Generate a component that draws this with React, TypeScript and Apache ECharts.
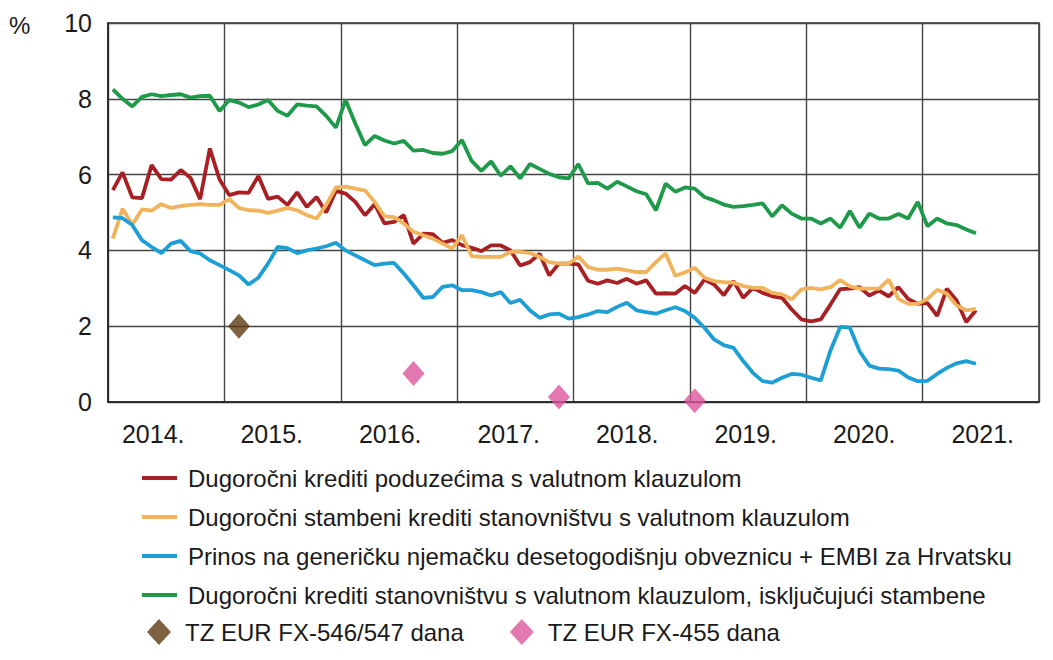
import React, { useEffect, useRef } from "react";
import * as echarts from "echarts";

// Year categories (labels centred in each year; split lines at year boundaries)
const yearLabels = ["2014.", "2015.", "2016.", "2017.", "2018.", "2019.", "2020.", "2021."];
const monthsPerYear = 12;

// Monthly values, January 2014 – June 2021 (%)
const corporate = [
  5.59, 6.06, 5.4, 5.38, 6.25, 5.88, 5.87, 6.12, 5.92, 5.35, 6.69, 5.87,
  5.46, 5.53, 5.52, 5.96, 5.36, 5.42, 5.2, 5.53, 5.15, 5.41, 5.0, 5.57,
  5.5, 5.28, 4.93, 5.22, 4.71, 4.75, 4.93, 4.18, 4.44, 4.43, 4.2, 4.27,
  4.14, 4.07, 3.98, 4.13, 4.13, 4.0, 3.6, 3.69, 3.91, 3.34, 3.65, 3.65,
  3.63, 3.2, 3.12, 3.21, 3.14, 3.25, 3.12, 3.21, 2.86, 2.87, 2.86, 3.06,
  2.88, 3.23, 3.1, 2.82, 3.19, 2.75, 3.01, 2.88, 2.79, 2.75, 2.44, 2.18,
  2.13, 2.18, 2.57, 2.98, 2.99, 3.03, 2.81, 2.94, 2.79, 3.03, 2.72, 2.59,
  2.61, 2.27, 2.99, 2.68, 2.11, 2.42,
];
const housing = [
  4.31, 5.1, 4.68, 5.08, 5.05, 5.22, 5.12, 5.17, 5.2, 5.22, 5.2, 5.2,
  5.35, 5.12, 5.06, 5.05, 4.99, 5.05, 5.12, 5.06, 4.93, 4.84, 5.2, 5.66,
  5.68, 5.63, 5.58, 5.28, 4.9, 4.88, 4.71, 4.49, 4.4, 4.31, 4.18, 4.05,
  4.4, 3.85, 3.83, 3.83, 3.83, 3.96, 3.96, 3.93, 3.83, 3.69, 3.65, 3.65,
  3.84, 3.56, 3.49, 3.49, 3.52, 3.47, 3.43, 3.43, 3.69, 3.92, 3.33, 3.42,
  3.54, 3.28, 3.19, 3.16, 3.15, 3.06, 3.01, 3.01, 2.88, 2.84, 2.71, 2.97,
  3.01, 2.97, 3.03, 3.22, 3.05, 2.99, 2.99, 2.99, 3.23, 2.72, 2.59, 2.59,
  2.72, 2.96, 2.86, 2.55, 2.42, 2.46,
];
const benchmark = [
  4.87, 4.85, 4.67, 4.27, 4.09, 3.93, 4.18, 4.25, 3.98, 3.92, 3.74, 3.61,
  3.48, 3.34, 3.1, 3.28, 3.65, 4.09, 4.06, 3.93, 4.0, 4.05, 4.11, 4.2,
  4.0, 3.87, 3.74, 3.61, 3.65, 3.67, 3.39, 3.08, 2.75, 2.77, 3.04, 3.08,
  2.95, 2.95, 2.9, 2.81, 2.9, 2.61, 2.7, 2.42, 2.22, 2.31, 2.33, 2.2,
  2.24, 2.31, 2.4, 2.37, 2.51, 2.62, 2.42, 2.37, 2.33, 2.42, 2.5, 2.4,
  2.22, 1.96, 1.65, 1.5, 1.43, 1.08, 0.77, 0.55, 0.51, 0.64, 0.74, 0.72,
  0.64, 0.57, 1.36, 1.98, 1.96, 1.34, 0.96, 0.88, 0.87, 0.83, 0.65, 0.55,
  0.56, 0.74, 0.9, 1.02, 1.08, 1.01,
];
const consumer = [
  8.25, 8.0, 7.8, 8.05, 8.12, 8.07, 8.1, 8.12, 8.03, 8.07, 8.08, 7.68,
  7.97, 7.9, 7.78, 7.85, 7.97, 7.68, 7.55, 7.85, 7.82, 7.8, 7.55, 7.24,
  7.97, 7.35, 6.78, 7.02, 6.9, 6.82, 6.89, 6.63, 6.65, 6.57, 6.55, 6.62,
  6.91, 6.36, 6.1, 6.35, 5.97, 6.22, 5.9, 6.28, 6.15, 6.02, 5.93, 5.9,
  6.28, 5.77, 5.78, 5.63, 5.81, 5.69, 5.56, 5.48, 5.06, 5.76, 5.55, 5.66,
  5.63, 5.41, 5.32, 5.21, 5.15, 5.17, 5.2, 5.24, 4.9, 5.19, 4.97, 4.84,
  4.84, 4.71, 4.84, 4.6, 5.04, 4.6, 4.97, 4.84, 4.84, 4.96, 4.84, 5.28,
  4.64, 4.84, 4.71, 4.67, 4.55, 4.45,
];
// Treasury bill issues: month index from January 2014, yield (%)
const fx546Months = [13];
const fx546Values = [2.0];
const fx455Months = [31, 46, 60];
const fx455Values = [0.75, 0.13, 0.03];

const names = {
  corporate: "Dugoročni krediti poduzećima s valutnom klauzulom",
  housing: "Dugoročni stambeni krediti stanovništvu s valutnom klauzulom",
  benchmark: "Prinos na generičku njemačku desetogodišnju obveznicu + EMBI za Hrvatsku",
  consumer: "Dugoročni krediti stanovništvu s valutnom klauzulom, isključujući stambene",
  fx546: "TZ EUR FX-546/547 dana",
  fx455: "TZ EUR FX-455 dana",
};

const FONT = "'Liberation Sans', Arial, sans-serif";
const TEXT = "#1a1a1a";

const toMonthly = (vals: number[]) => vals.map((v, i) => [i + 0.5, v]);
const toPoints = (months: number[], vals: number[]) => months.map((m, i) => [m + 0.5, vals[i]]);

export default function App() {
  const ref = useRef<HTMLDivElement>(null);
  useEffect(() => {
    if (!ref.current) return;
    const chart = echarts.init(ref.current, undefined, { renderer: "svg" });
    const lineSeries = (name: string, data: number[], color: string, z: number) => ({
      name,
      type: "line",
      xAxisIndex: 1,
      data: toMonthly(data),
      showSymbol: false,
      color,
      lineStyle: { color, width: 3.8 },
      itemStyle: { color },
      z,
    });
    const legendText = (pad: number) => ({
      fontSize: 24,
      lineHeight: 26,
      color: TEXT,
      fontFamily: FONT,
      padding: [0, 0, 0, pad],
    });
    chart.setOption({
      animation: false,
      grid: [
        { left: 108, right: 14, top: 23, bottom: 258, show: true, borderColor: "#333", borderWidth: 1.5 },
        { left: 94, right: 11, top: 23, bottom: 258, show: false },
      ],
      xAxis: [
        {
          type: "category",
          gridIndex: 0,
          data: yearLabels,
          boundaryGap: true,
          axisLine: { show: true, lineStyle: { color: "#222", width: 1.5 } },
          axisTick: { show: false },
          axisLabel: { show: false },
          splitLine: { show: true, interval: 0, lineStyle: { color: "#444", width: 1.4 } },
        },
        { type: "value", gridIndex: 0, min: 0, max: yearLabels.length * monthsPerYear, show: false },
        {
          type: "category",
          gridIndex: 1,
          data: yearLabels,
          boundaryGap: true,
          axisLine: { show: false },
          axisTick: { show: false },
          splitLine: { show: false },
          axisLabel: { fontSize: 25, color: TEXT, margin: 19, fontFamily: FONT },
        },
      ],
      yAxis: [
        {
          type: "value",
          gridIndex: 0,
          min: 0,
          max: 10,
          interval: 2,
          axisLine: { show: true, lineStyle: { color: "#222", width: 1.5 } },
          axisTick: { show: false },
          axisLabel: { fontSize: 25, color: TEXT, margin: 16, fontFamily: FONT },
          splitLine: { show: true, lineStyle: { color: "#444", width: 1.4 } },
        },
        { type: "value", gridIndex: 1, min: 0, max: 10, show: false },
      ],
      graphic: [
        { type: "text", left: 9, top: 13, style: { text: "%", fontSize: 24, fill: TEXT, fontFamily: FONT } },
      ],
      legend: [
        {
          orient: "vertical",
          left: 142,
          top: 465,
          padding: 0,
          itemWidth: 35,
          itemHeight: 4,
          itemGap: 13,
          icon: "rect",
          data: [names.corporate, names.housing, names.benchmark, names.consumer],
          textStyle: legendText(6),
        },
        {
          orient: "horizontal",
          left: 147,
          top: 619,
          padding: 0,
          itemWidth: 24,
          itemHeight: 26,
          itemGap: 46,
          data: [
            { name: names.fx546, icon: "diamond" },
            { name: names.fx455, icon: "diamond" },
          ],
          textStyle: legendText(9),
        },
      ],
      series: [
        lineSeries(names.consumer, consumer, "#1e9a4a", 2),
        lineSeries(names.corporate, corporate, "#a82024", 3),
        lineSeries(names.housing, housing, "#f1b45c", 4),
        lineSeries(names.benchmark, benchmark, "#1d9fd5", 5),
        {
          name: names.fx546,
          type: "scatter",
          xAxisIndex: 1,
          data: toPoints(fx546Months, fx546Values),
          symbol: "diamond",
          symbolSize: [22, 25],
          color: "#5c3a10",
          itemStyle: { color: "#5c3a10" },
          z: 6,
        },
        {
          name: names.fx455,
          type: "scatter",
          xAxisIndex: 1,
          data: toPoints(fx455Months, fx455Values),
          symbol: "diamond",
          symbolSize: [22, 25],
          color: "#dc559c",
          itemStyle: { color: "#dc559c" },
          z: 6,
        },
      ],
    });
    return () => chart.dispose();
  }, []);
  return <div ref={ref} style={{ width: 1053, height: 660, position: "absolute", left: 0, top: 0 }} />;
}
